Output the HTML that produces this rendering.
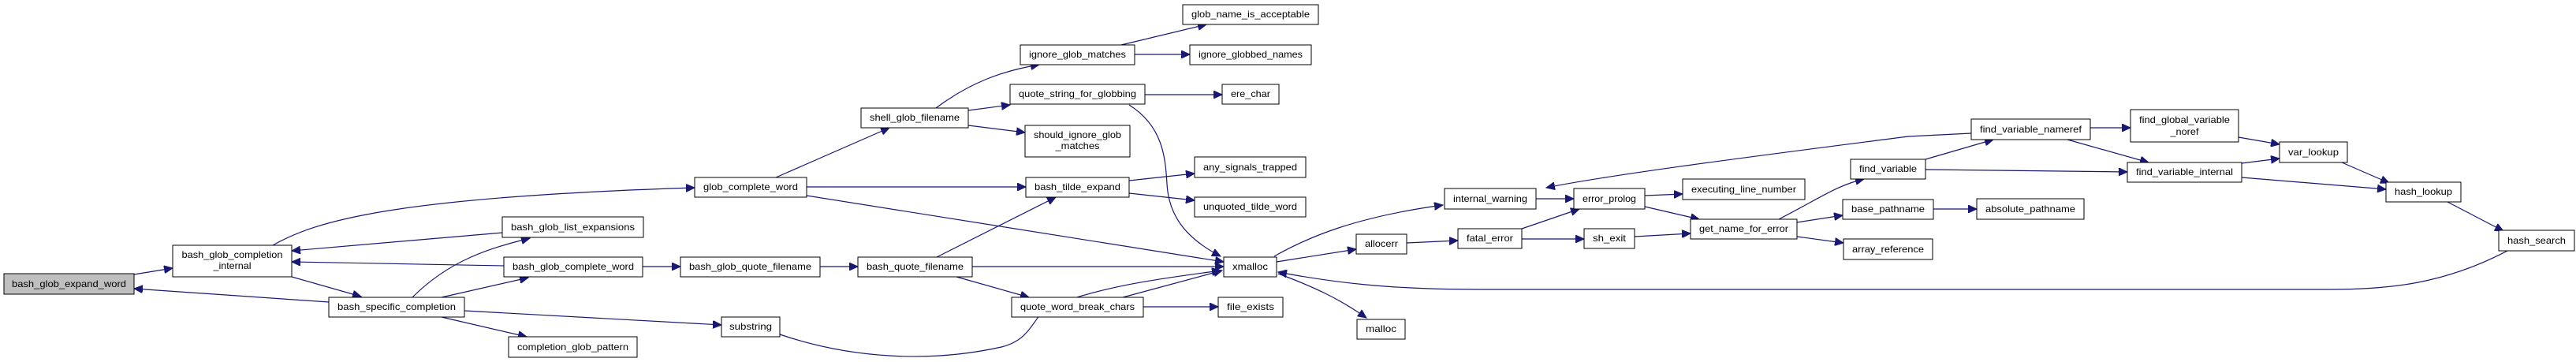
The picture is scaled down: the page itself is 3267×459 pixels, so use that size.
<!DOCTYPE html>
<html><head><meta charset="utf-8"><style>
html,body{margin:0;padding:0;background:#fff}
svg{display:block}
text{font-family:"Liberation Sans",sans-serif;font-size:12px;fill:#000}
.b{fill:#fff;stroke:#000;stroke-width:1}
.e{fill:none;stroke:#191970;stroke-width:1.2}
</style></head><body>
<svg width="3267" height="459" viewBox="0 0 3267 459" xmlns="http://www.w3.org/2000/svg">
<defs><marker id="a" markerUnits="userSpaceOnUse" markerWidth="12" markerHeight="10" refX="11" refY="5" orient="auto"><path d="M0,0 L11,5 L0,10 z" fill="#191970" stroke="#191970"/></marker></defs>
<g class="e" marker-end="url(#a)">
<path d="M170,348 L219,340"/>
<path d="M417,383 L170,366"/>
<path d="M370,351 L458,376"/>
<path d="M637,295 L370,318"/>
<path d="M639,337 L370,332"/>
<path d="M523,377 C570,330 620,315 672,302"/>
<path d="M560,377 L670,352"/>
<path d="M560,402 L668,427"/>
<path d="M589,394 L915,412"/>
<path d="M346,311 C400,280 500,250 881,238"/>
<path d="M815,338 L863,338"/>
<path d="M1040,338 L1088,338"/>
<path d="M1188,326 L1339,250"/>
<path d="M1233,338 L1552,338"/>
<path d="M1213,351 L1305,377"/>
<path d="M984,225 L1128,162"/>
<path d="M1023,237 L1301,237"/>
<path d="M1023,248 L1552,332"/>
<path d="M1187,137 C1230,105 1270,90 1318,82"/>
<path d="M1228,140 L1281,133"/>
<path d="M1228,159 L1300,168"/>
<path d="M1422,57 L1530,31"/>
<path d="M1439,69 L1509,69"/>
<path d="M1452,120 L1550,120"/>
<path d="M1432,133 C1475,160 1478,200 1480,233 C1482,270 1500,300 1548,325"/>
<path d="M1432,229 L1515,220"/>
<path d="M1432,245 L1515,254"/>
<path d="M1424,377 L1550,343"/>
<path d="M1450,389 L1545,389"/>
<path d="M989,424 C1080,455 1180,460 1270,440 C1310,430 1310,400 1330,390 C1400,360 1500,350 1548,343"/>
<path d="M1616,325 C1660,300 1720,275 1830,260"/>
<path d="M1619,332 L1720,316"/>
<path d="M1621,347 C1670,365 1700,380 1733,403"/>
<path d="M1784,308 L1849,305"/>
<path d="M1948,252 L1996,252"/>
<path d="M1930,290 L2003,265"/>
<path d="M1930,303 L2009,303"/>
<path d="M2086,248 L2134,246"/>
<path d="M2086,262 L2155,278"/>
<path d="M2073,300 L2144,296"/>
<path d="M2256,278 C2310,250 2330,235 2364,227"/>
<path d="M2279,282 L2337,273"/>
<path d="M2279,300 L2338,308"/>
<path d="M2452,265 L2507,265"/>
<path d="M2442,202 L2528,177"/>
<path d="M2442,215 L2698,218"/>
<path d="M2500,169 L2420,173 C2250,195 2050,220 1961,238"/>
<path d="M2651,162 L2702,162"/>
<path d="M2622,177 L2725,206"/>
<path d="M2839,174 L2891,183"/>
<path d="M2843,207 L2891,201"/>
<path d="M2843,225 L3026,240"/>
<path d="M2970,206 L3030,232"/>
<path d="M3104,256 L3175,293"/>
<path d="M3180,318 C3100,360 3030,367 2955,367 L1877,367 C1760,367 1690,358 1621,345"/>
</g>
<g>
<rect x="5" y="347" width="165" height="26" fill="#bfbfbf" stroke="#000"/><text x="87.5" y="364" text-anchor="middle" textLength="145" lengthAdjust="spacingAndGlyphs">bash_glob_expand_word</text>
<rect class="b" x="219" y="311" width="151" height="40"/><text x="294.5" y="327" text-anchor="middle" textLength="128" lengthAdjust="spacingAndGlyphs">bash_glob_completion</text><text x="294.5" y="341" text-anchor="middle" textLength="48" lengthAdjust="spacingAndGlyphs">_internal</text>
<rect class="b" x="417" y="377" width="172" height="25"/><text x="503" y="393" text-anchor="middle" textLength="150" lengthAdjust="spacingAndGlyphs">bash_specific_completion</text>
<rect class="b" x="637" y="275" width="179" height="26"/><text x="726.5" y="292" text-anchor="middle" textLength="157" lengthAdjust="spacingAndGlyphs">bash_glob_list_expansions</text>
<rect class="b" x="639" y="326" width="176" height="25"/><text x="727" y="342" text-anchor="middle" textLength="154" lengthAdjust="spacingAndGlyphs">bash_glob_complete_word</text>
<rect class="b" x="645" y="427" width="163" height="26"/><text x="726.5" y="444" text-anchor="middle" textLength="141" lengthAdjust="spacingAndGlyphs">completion_glob_pattern</text>
<rect class="b" x="881" y="225" width="142" height="25"/><text x="952" y="241" text-anchor="middle" textLength="120" lengthAdjust="spacingAndGlyphs">glob_complete_word</text>
<rect class="b" x="1092" y="137" width="136" height="25"/><text x="1160" y="153" text-anchor="middle" textLength="114" lengthAdjust="spacingAndGlyphs">shell_glob_filename</text>
<rect class="b" x="1294" y="57" width="145" height="25"/><text x="1366.5" y="73" text-anchor="middle" textLength="123" lengthAdjust="spacingAndGlyphs">ignore_glob_matches</text>
<rect class="b" x="1281" y="107" width="171" height="25"/><text x="1366.5" y="123" text-anchor="middle" textLength="149" lengthAdjust="spacingAndGlyphs">quote_string_for_globbing</text>
<rect class="b" x="1300" y="159" width="133" height="40"/><text x="1366.5" y="175" text-anchor="middle" textLength="111" lengthAdjust="spacingAndGlyphs">should_ignore_glob</text><text x="1366.5" y="189" text-anchor="middle" textLength="56" lengthAdjust="spacingAndGlyphs">_matches</text>
<rect class="b" x="1301" y="225" width="131" height="25"/><text x="1366.5" y="241" text-anchor="middle" textLength="109" lengthAdjust="spacingAndGlyphs">bash_tilde_expand</text>
<rect class="b" x="863" y="326" width="177" height="25"/><text x="951.5" y="342" text-anchor="middle" textLength="155" lengthAdjust="spacingAndGlyphs">bash_glob_quote_filename</text>
<rect class="b" x="1088" y="326" width="145" height="25"/><text x="1160.5" y="342" text-anchor="middle" textLength="123" lengthAdjust="spacingAndGlyphs">bash_quote_filename</text>
<rect class="b" x="1283" y="377" width="167" height="25"/><text x="1366.5" y="393" text-anchor="middle" textLength="145" lengthAdjust="spacingAndGlyphs">quote_word_break_chars</text>
<rect class="b" x="915" y="402" width="74" height="25"/><text x="952" y="418" text-anchor="middle" textLength="54" lengthAdjust="spacingAndGlyphs">substring</text>
<rect class="b" x="1500" y="6" width="172" height="25"/><text x="1586" y="22" text-anchor="middle" textLength="150" lengthAdjust="spacingAndGlyphs">glob_name_is_acceptable</text>
<rect class="b" x="1509" y="57" width="154" height="25"/><text x="1586" y="73" text-anchor="middle" textLength="132" lengthAdjust="spacingAndGlyphs">ignore_globbed_names</text>
<rect class="b" x="1550" y="107" width="72" height="25"/><text x="1586" y="123" text-anchor="middle" textLength="50" lengthAdjust="spacingAndGlyphs">ere_char</text>
<rect class="b" x="1515" y="199" width="141" height="26"/><text x="1585.5" y="216" text-anchor="middle" textLength="119" lengthAdjust="spacingAndGlyphs">any_signals_trapped</text>
<rect class="b" x="1515" y="250" width="141" height="25"/><text x="1585.5" y="266" text-anchor="middle" textLength="119" lengthAdjust="spacingAndGlyphs">unquoted_tilde_word</text>
<rect class="b" x="1552" y="326" width="67" height="25"/><text x="1585.5" y="342" text-anchor="middle" textLength="45" lengthAdjust="spacingAndGlyphs">xmalloc</text>
<rect class="b" x="1545" y="377" width="82" height="25"/><text x="1586" y="393" text-anchor="middle" textLength="60" lengthAdjust="spacingAndGlyphs">file_exists</text>
<rect class="b" x="1721" y="405" width="61" height="25"/><text x="1751.5" y="421" text-anchor="middle" textLength="39" lengthAdjust="spacingAndGlyphs">malloc</text>
<rect class="b" x="1720" y="297" width="64" height="25"/><text x="1752" y="313" text-anchor="middle" textLength="42" lengthAdjust="spacingAndGlyphs">allocerr</text>
<rect class="b" x="1832" y="239" width="116" height="26"/><text x="1890" y="256" text-anchor="middle" textLength="94" lengthAdjust="spacingAndGlyphs">internal_warning</text>
<rect class="b" x="1849" y="290" width="81" height="25"/><text x="1889.5" y="306" text-anchor="middle" textLength="59" lengthAdjust="spacingAndGlyphs">fatal_error</text>
<rect class="b" x="1996" y="239" width="90" height="26"/><text x="2041" y="256" text-anchor="middle" textLength="68" lengthAdjust="spacingAndGlyphs">error_prolog</text>
<rect class="b" x="2009" y="290" width="64" height="25"/><text x="2041" y="306" text-anchor="middle" textLength="42" lengthAdjust="spacingAndGlyphs">sh_exit</text>
<rect class="b" x="2134" y="227" width="155" height="26"/><text x="2211.5" y="244" text-anchor="middle" textLength="133" lengthAdjust="spacingAndGlyphs">executing_line_number</text>
<rect class="b" x="2144" y="278" width="135" height="25"/><text x="2211.5" y="294" text-anchor="middle" textLength="113" lengthAdjust="spacingAndGlyphs">get_name_for_error</text>
<rect class="b" x="2347" y="202" width="95" height="25"/><text x="2394.5" y="218" text-anchor="middle" textLength="73" lengthAdjust="spacingAndGlyphs">find_variable</text>
<rect class="b" x="2337" y="253" width="115" height="25"/><text x="2394.5" y="269" text-anchor="middle" textLength="93" lengthAdjust="spacingAndGlyphs">base_pathname</text>
<rect class="b" x="2338" y="303" width="113" height="26"/><text x="2394.5" y="320" text-anchor="middle" textLength="91" lengthAdjust="spacingAndGlyphs">array_reference</text>
<rect class="b" x="2500" y="151" width="151" height="26"/><text x="2575.5" y="168" text-anchor="middle" textLength="129" lengthAdjust="spacingAndGlyphs">find_variable_nameref</text>
<rect class="b" x="2702" y="139" width="137" height="41"/><text x="2770.5" y="156" text-anchor="middle" textLength="115" lengthAdjust="spacingAndGlyphs">find_global_variable</text><text x="2770.5" y="171" text-anchor="middle" textLength="36" lengthAdjust="spacingAndGlyphs">_noref</text>
<rect class="b" x="2698" y="206" width="145" height="25"/><text x="2770.5" y="222" text-anchor="middle" textLength="123" lengthAdjust="spacingAndGlyphs">find_variable_internal</text>
<rect class="b" x="2507" y="252" width="136" height="26"/><text x="2575" y="269" text-anchor="middle" textLength="114" lengthAdjust="spacingAndGlyphs">absolute_pathname</text>
<rect class="b" x="2891" y="180" width="86" height="26"/><text x="2934" y="197" text-anchor="middle" textLength="64" lengthAdjust="spacingAndGlyphs">var_lookup</text>
<rect class="b" x="3026" y="231" width="95" height="25"/><text x="3073.5" y="247" text-anchor="middle" textLength="73" lengthAdjust="spacingAndGlyphs">hash_lookup</text>
<rect class="b" x="3169" y="292" width="96" height="26"/><text x="3217" y="309" text-anchor="middle" textLength="74" lengthAdjust="spacingAndGlyphs">hash_search</text>
</g>
</svg>
</body></html>
